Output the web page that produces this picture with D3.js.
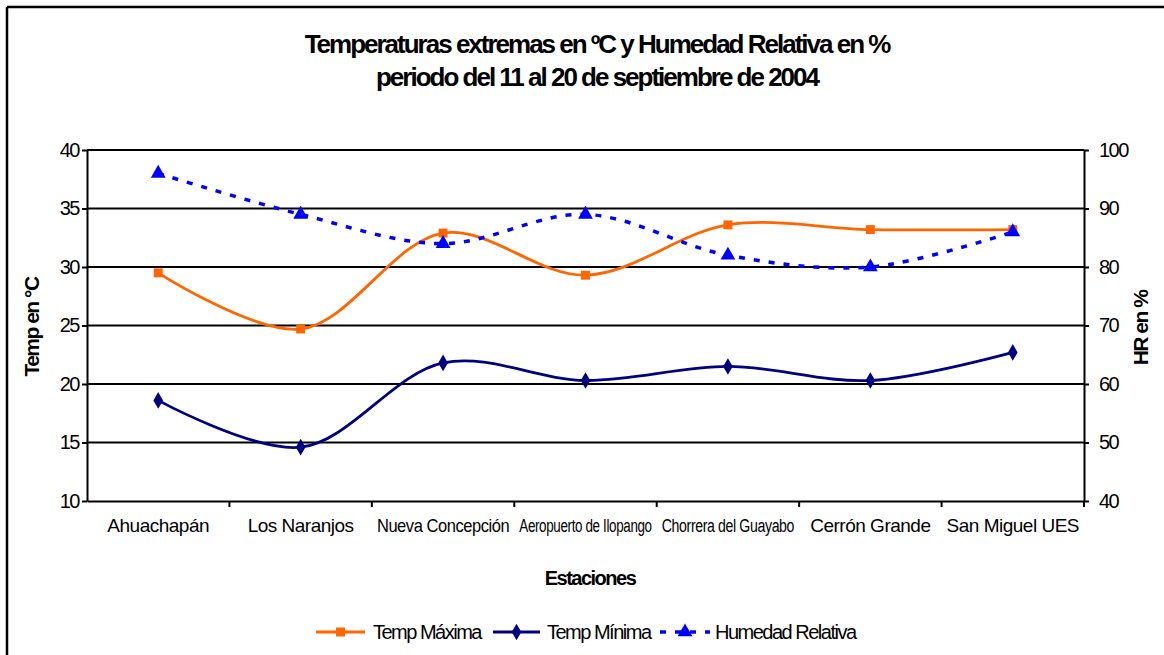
<!DOCTYPE html>
<html>
<head>
<meta charset="utf-8">
<script src="https://cdn.jsdelivr.net/npm/d3@7"></script>
<style>
  html, body { margin: 0; padding: 0; background: #fff; }
  svg { display: block; font-family: "Liberation Sans", Arial, sans-serif; }
</style>
</head>
<body>
<svg id="chart" width="1164" height="655"></svg>
<script>
// Estaciones meteorológicas
const estaciones = ["Ahuachapán", "Los Naranjos", "Nueva Concepción", "Aeropuerto de Ilopango",
  "Chorrera del Guayabo", "Cerrón Grande", "San Miguel UES"];

// Temperaturas (°C) y humedad relativa (%)
const tempMaxima = [29.5, 24.7, 32.9, 29.3, 33.6, 33.2, 33.2];
const tempMinima = [18.6, 14.6, 21.8, 20.3, 21.5, 20.3, 22.7];
const humedadRelativa = [96, 89, 84, 89, 82, 80, 86];

const ticksTemp = [10, 15, 20, 25, 30, 35, 40];
const ticksHR = [40, 50, 60, 70, 80, 90, 100];

const titulo = ["Temperaturas extremas en ºC y Humedad Relativa en %",
  "periodo del 11 al 20 de septiembre de 2004"];

const svg = d3.select("#chart");
const W = 1164, H = 655;
const plot = { left: 87, right: 1084, top: 150, bottom: 501 };

// Marco exterior
svg.append("line").attr("x1", 7).attr("x2", W).attr("y1", 7).attr("y2", 7)
  .attr("stroke", "#000").attr("stroke-width", 2.5);
svg.append("line").attr("x1", 7).attr("x2", 7).attr("y1", 7).attr("y2", H)
  .attr("stroke", "#000").attr("stroke-width", 2.5);

const x = d3.scaleBand().domain(estaciones).range([plot.left, plot.right]);
const yT = d3.scaleLinear().domain([10, 40]).range([plot.bottom, plot.top]);
const yH = d3.scaleLinear().domain([40, 100]).range([plot.bottom, plot.top]);
const cx = d => x(d) + x.bandwidth() / 2;

// Líneas de división horizontales
svg.append("g").selectAll("line").data(ticksTemp.slice(1)).join("line")
  .attr("x1", plot.left).attr("x2", plot.right)
  .attr("y1", d => yT(d)).attr("y2", d => yT(d))
  .attr("stroke", "#000").attr("stroke-width", 2);

// Ejes
const axisStyle = g => {
  g.select(".domain").attr("stroke", "#000").attr("stroke-width", 2);
  g.selectAll(".tick line").attr("stroke", "#000").attr("stroke-width", 2);
  g.selectAll(".tick text").attr("fill", "#000").style("font-size", "20px").attr("letter-spacing", "-1.5px");
};

svg.append("g").attr("transform", `translate(${plot.left},0)`)
  .call(d3.axisLeft(yT).tickValues(ticksTemp).tickSize(5).tickSizeOuter(0).tickPadding(3))
  .call(axisStyle);

svg.append("g").attr("transform", `translate(${plot.right},0)`)
  .call(d3.axisRight(yH).tickValues(ticksHR).tickSize(5).tickSizeOuter(0).tickPadding(10))
  .call(axisStyle);

const xAxis = svg.append("g").attr("transform", `translate(0,${plot.bottom})`)
  .call(d3.axisBottom(x).tickSize(0).tickPadding(18))
  .call(axisStyle);
// Rótulos de estación: letra estrecha, comprimida horizontalmente si no cabe en su banda
xAxis.selectAll(".tick text")
  .style("font-size", "19px").attr("letter-spacing", "-0.5px")
  .each(function () {
    const max = x.bandwidth() - 10;
    const len = this.getComputedTextLength();
    if (len > max) {
      d3.select(this).attr("transform", `scale(${(max / len).toFixed(3)},1)`);
    }
  });
// Marcas entre categorías
xAxis.append("g").selectAll("line").data(estaciones).join("line")
  .attr("x1", d => x(d) + x.bandwidth())
  .attr("x2", d => x(d) + x.bandwidth())
  .attr("y1", 0).attr("y2", 6)
  .attr("stroke", "#000").attr("stroke-width", 2);

// Títulos
svg.append("g").selectAll("text").data(titulo).join("text")
  .attr("x", 597).attr("y", (d, i) => 53 + i * 33)
  .attr("text-anchor", "middle")
  .style("font-size", "26px").style("font-weight", "bold")
  .attr("letter-spacing", "-2px")
  .text(d => d);

svg.append("text").attr("x", 590).attr("y", 585).attr("text-anchor", "middle")
  .style("font-size", "20px").style("font-weight", "bold").attr("letter-spacing", "-1.5px")
  .text("Estaciones");

svg.append("text").attr("transform", "translate(39,327) rotate(-90)").attr("text-anchor", "middle")
  .style("font-size", "21px").style("font-weight", "bold").attr("letter-spacing", "-1.5px")
  .text("Temp en °C");

svg.append("text").attr("transform", "translate(1148,328) rotate(-90)").attr("text-anchor", "middle")
  .style("font-size", "21px").style("font-weight", "bold").attr("letter-spacing", "-1.5px")
  .text("HR en %");

// Series
const series = [
  { nombre: "Temp Máxima", valores: tempMaxima, y: yT, color: "#FF6600", dash: null, simbolo: d3.symbolSquare, tam: 80 },
  { nombre: "Temp Mínima", valores: tempMinima, y: yT, color: "#000080", dash: null, simbolo: d3.symbolDiamond, tam: 80 },
  { nombre: "Humedad Relativa", valores: humedadRelativa, y: yH, color: "#0000FF", dash: "6,9", simbolo: d3.symbolTriangle, tam: 95 }
];

series.forEach(s => {
  const line = d3.line()
    .x((d, i) => cx(estaciones[i]))
    .y(d => s.y(d))
    .curve(d3.curveCatmullRom.alpha(0.5));
  svg.append("path").datum(s.valores)
    .attr("d", line).attr("fill", "none")
    .attr("stroke", s.color).attr("stroke-width", s.dash ? 3.5 : 2.8)
    .attr("stroke-dasharray", s.dash);
  svg.append("g").selectAll("path").data(s.valores).join("path")
    .attr("transform", (d, i) => `translate(${cx(estaciones[i])},${s.y(d)})`)
    .attr("d", d3.symbol().type(s.simbolo).size(s.tam))
    .attr("fill", s.color);
});

// Leyenda
const leyenda = [
  { serie: series[0], x1: 316, x2: 365, tx: 373 },
  { serie: series[1], x1: 493, x2: 540, tx: 547 },
  { serie: series[2], x1: 660, x2: 710, tx: 715 }
];
const ly = 632;
leyenda.forEach(l => {
  const s = l.serie;
  svg.append("line").attr("x1", l.x1).attr("x2", l.x2).attr("y1", ly).attr("y2", ly)
    .attr("stroke", s.color).attr("stroke-width", s.dash ? 3.5 : 2.8)
    .attr("stroke-dasharray", s.dash);
  svg.append("path").attr("transform", `translate(${(l.x1 + l.x2) / 2},${ly})`)
    .attr("d", d3.symbol().type(s.simbolo).size(s.tam)).attr("fill", s.color);
  svg.append("text").attr("x", l.tx).attr("y", ly + 7)
    .style("font-size", "20px").attr("letter-spacing", "-1.5px").text(s.nombre);
});
</script>
</body>
</html>
